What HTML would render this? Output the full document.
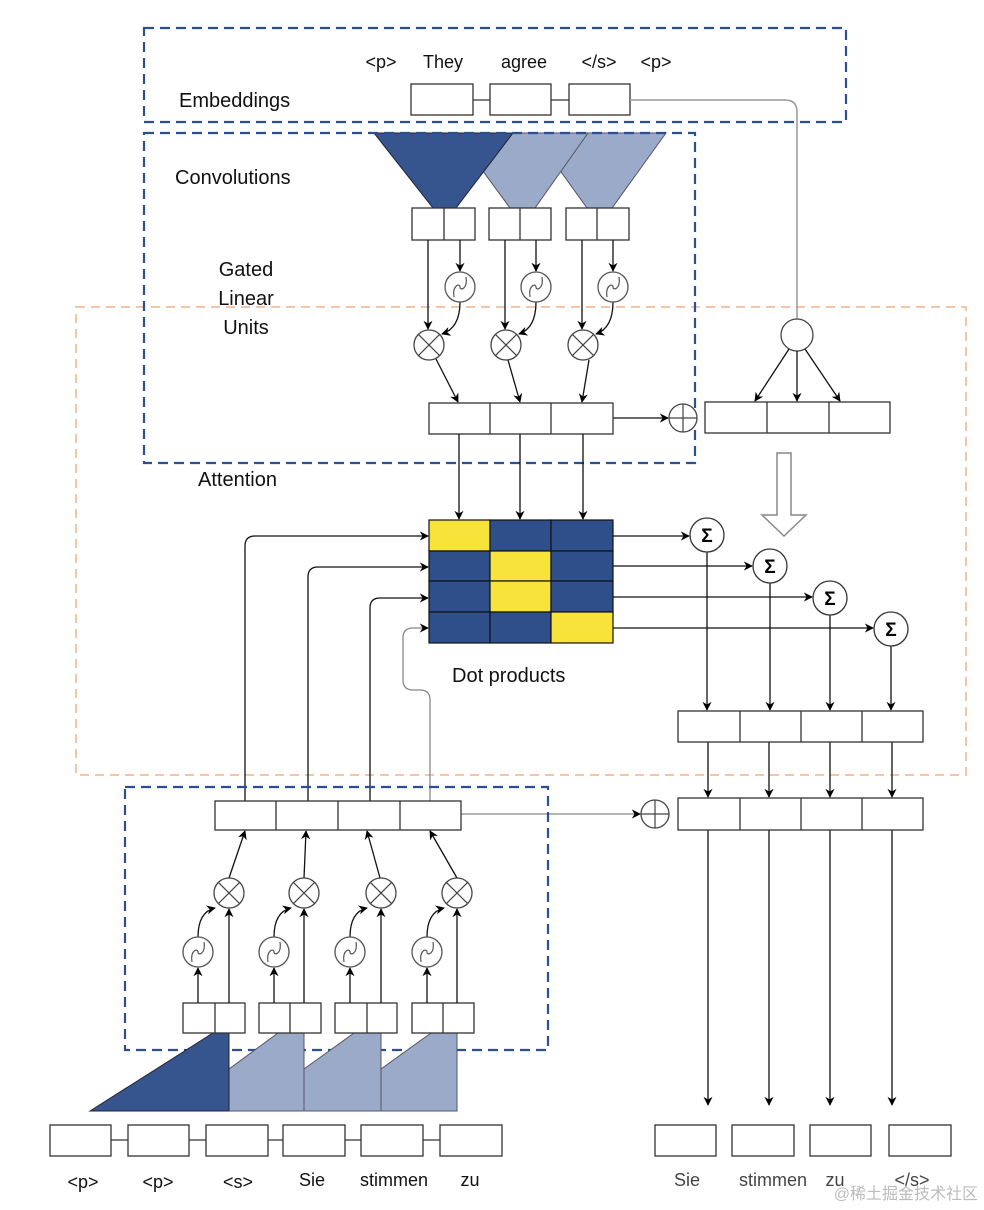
<!DOCTYPE html>
<html><head><meta charset="utf-8"><style>html,body{margin:0;padding:0;background:#fff}svg{display:block}</style></head>
<body>
<svg width="984" height="1210" viewBox="0 0 984 1210" xmlns="http://www.w3.org/2000/svg" font-family="Liberation Sans, sans-serif">
<defs>
<marker id="a" viewBox="0 0 10 10" refX="9" refY="5" markerWidth="7" markerHeight="7" orient="auto"><path d="M0,0 L10,5 L0,10 L3,5 z" fill="#000"/></marker>
<g id="sig"><circle r="15" fill="#fff" stroke="#555" stroke-width="1.3"/><path d="M-6,10 C-8,-2 0,-4 0,0 C0,4 8,2 6,-10" fill="none" stroke="#555" stroke-width="1.2"/></g>
<g id="mul"><circle r="15" fill="#fff" stroke="#444" stroke-width="1.3"/><path d="M-10.6,-10.6 L10.6,10.6 M10.6,-10.6 L-10.6,10.6" stroke="#444" stroke-width="1.2"/></g>
<g id="plus"><circle r="14" fill="#fff" stroke="#444" stroke-width="1.3"/><path d="M-14,0 H14 M0,-14 V14" stroke="#444" stroke-width="1.2"/></g>
<g id="sum"><circle r="17" fill="#fff" stroke="#333" stroke-width="1.3"/><text y="7" text-anchor="middle" font-size="19" font-weight="bold">Σ</text></g>
</defs>

<rect x="76" y="307" width="890" height="468" fill="none" stroke="#f4c6a3" stroke-width="2" stroke-dasharray="9,6"/>
<rect x="144" y="28" width="702" height="94" fill="none" stroke="#2c4f8f" stroke-width="2.2" stroke-dasharray="10,6"/>

<polygon points="533,133 666,133 612,208 587,208" fill="#9aaac8" stroke="#556" stroke-width="1"/>
<polygon points="455,133 588,133 535,208 510,208" fill="#9aaac8" stroke="#556" stroke-width="1"/>
<polygon points="374,133 513,133 456,208 433,208" fill="#36558f" stroke="#223" stroke-width="1"/>
<rect x="144" y="133" width="551" height="330" fill="none" stroke="#2c4f8f" stroke-width="2.2" stroke-dasharray="10,6"/>

<g font-size="18" text-anchor="middle" fill="#111">
<text x="381" y="68">&lt;p&gt;</text><text x="443" y="68">They</text><text x="524" y="68">agree</text><text x="599" y="68">&lt;/s&gt;</text><text x="656" y="68">&lt;p&gt;</text>
</g>
<g fill="#fff" stroke="#333" stroke-width="1.3">
<rect x="411" y="84" width="62" height="31"/><rect x="490" y="84" width="61" height="31"/><rect x="569" y="84" width="61" height="31"/>
</g>
<path d="M473,100 H490 M551,100 H569" stroke="#333" stroke-width="1.2"/>
<path d="M630,100 H785 Q797,100 797,112 V319" fill="none" stroke="#999" stroke-width="1.5"/>

<g font-size="20" fill="#111">
<text x="179" y="107">Embeddings</text>
<text x="175" y="184">Convolutions</text>
<text x="246" y="276" text-anchor="middle">Gated</text>
<text x="246" y="305" text-anchor="middle">Linear</text>
<text x="246" y="334" text-anchor="middle">Units</text>
<text x="198" y="486">Attention</text>
<text x="452" y="682">Dot products</text>
</g>

<g fill="#fff" stroke="#333" stroke-width="1.3">
<rect x="412" y="208" width="63" height="32"/><rect x="489" y="208" width="62" height="32"/><rect x="566" y="208" width="63" height="32"/>
</g>
<path d="M444,208V240 M520,208V240 M597,208V240" stroke="#333" stroke-width="1.3"/>
<g stroke="#111" stroke-width="1.3" fill="none" marker-end="url(#a)">
<path d="M428,240 V329"/><path d="M505,240 V329"/><path d="M582,240 V329"/>
<path d="M460,240 V271"/><path d="M536,240 V271"/><path d="M613,240 V271"/>
<path d="M460,302 Q460,328 442,334"/><path d="M536,302 Q536,328 519,334"/><path d="M613,302 Q613,328 596,334"/>
<path d="M436,359 L458,402"/><path d="M508,360 L520,402"/><path d="M589,360 L582,402"/>
<path d="M613,418 H668"/>
</g>
<use href="#sig" x="460" y="287"/><use href="#sig" x="536" y="287"/><use href="#sig" x="613" y="287"/>
<use href="#mul" x="429" y="345"/><use href="#mul" x="506" y="345"/><use href="#mul" x="583" y="345"/>

<rect x="429" y="403" width="184" height="31" fill="#fff" stroke="#333" stroke-width="1.3"/>
<path d="M490,403V434 M551,403V434" stroke="#333" stroke-width="1.3"/>
<use href="#plus" x="683" y="418"/>
<rect x="705" y="402" width="185" height="31" fill="#fff" stroke="#333" stroke-width="1.3"/>
<path d="M767,402V433 M829,402V433" stroke="#333" stroke-width="1.3"/>
<circle cx="797" cy="335" r="16" fill="#fff" stroke="#444" stroke-width="1.3"/>
<g stroke="#111" stroke-width="1.3" marker-end="url(#a)">
<path d="M789,349 L755,401"/><path d="M797,351 V401"/><path d="M805,349 L840,401"/>
</g>
<polygon points="777,453 791,453 791,515 806,515 784,536 762,515 777,515" fill="#fff" stroke="#888" stroke-width="1.5"/>

<g stroke="#111" stroke-width="1.3" marker-end="url(#a)">
<path d="M459,434 V519"/><path d="M520,434 V519"/><path d="M583,434 V519"/>
</g>

<g stroke="#111" stroke-width="1.2">
<rect x="429" y="520" width="61" height="31" fill="#f7e33a"/><rect x="490" y="520" width="61" height="31" fill="#2f4f8a"/><rect x="551" y="520" width="62" height="31" fill="#2f4f8a"/>
<rect x="429" y="551" width="61" height="30" fill="#2f4f8a"/><rect x="490" y="551" width="61" height="30" fill="#f7e33a"/><rect x="551" y="551" width="62" height="30" fill="#2f4f8a"/>
<rect x="429" y="581" width="61" height="31" fill="#2f4f8a"/><rect x="490" y="581" width="61" height="31" fill="#f7e33a"/><rect x="551" y="581" width="62" height="31" fill="#2f4f8a"/>
<rect x="429" y="612" width="61" height="31" fill="#2f4f8a"/><rect x="490" y="612" width="61" height="31" fill="#2f4f8a"/><rect x="551" y="612" width="62" height="31" fill="#f7e33a"/>
</g>

<g stroke="#111" stroke-width="1.3" fill="none" marker-end="url(#a)">
<path d="M613,536 H689"/><path d="M613,566 H752"/><path d="M613,597 H812"/><path d="M613,628 H873"/>
<path d="M707,552 V710"/><path d="M770,583 V710"/><path d="M830,615 V710"/><path d="M891,646 V710"/>
<path d="M708,742 V797"/><path d="M769,742 V797"/><path d="M830,742 V797"/><path d="M892,742 V797"/>
<path d="M708,830 V1105"/><path d="M769,830 V1105"/><path d="M830,830 V1105"/><path d="M892,830 V1105"/>
</g>
<use href="#sum" x="707" y="535"/><use href="#sum" x="770" y="566"/><use href="#sum" x="830" y="598"/><use href="#sum" x="891" y="629"/>

<g fill="#fff" stroke="#333" stroke-width="1.3">
<rect x="678" y="711" width="245" height="31"/><rect x="678" y="798" width="245" height="32"/>
</g>
<path d="M740,711V742 M801,711V742 M862,711V742 M740,798V830 M801,798V830 M862,798V830" stroke="#333" stroke-width="1.3"/>
<use href="#plus" x="655" y="814"/>

<g stroke="#111" stroke-width="1.3" fill="none" marker-end="url(#a)">
<path d="M245,801 V546 Q245,536 255,536 H428"/>
<path d="M308,801 V577 Q308,567 318,567 H428"/>
<path d="M370,801 V608 Q370,598 380,598 H428"/>
</g>
<path d="M430,801 V700 Q430,690 420,690 H413 Q403,690 403,680 V638 Q403,628 413,628 H428" stroke="#888" stroke-width="1.3" fill="none" marker-end="url(#a)"/>
<path d="M461,814 H640" stroke="#888" stroke-width="1.3" marker-end="url(#a)"/>

<rect x="125" y="787" width="423" height="263" fill="none" stroke="#2c4f8f" stroke-width="2.2" stroke-dasharray="10,6"/>
<rect x="215" y="801" width="246" height="29" fill="#fff" stroke="#333" stroke-width="1.3"/>
<path d="M276,801V830 M338,801V830 M400,801V830" stroke="#333" stroke-width="1.3"/>

<polygon points="229,1111 229,1069 278,1033 304,1033 304,1111" fill="#9aaac8" stroke="#556" stroke-width="1"/>
<polygon points="304,1111 304,1069 354,1033 381,1033 381,1111" fill="#9aaac8" stroke="#556" stroke-width="1"/>
<polygon points="381,1111 381,1069 431,1033 457,1033 457,1111" fill="#9aaac8" stroke="#556" stroke-width="1"/>
<polygon points="90,1111 213,1033 229,1033 229,1111" fill="#36558f" stroke="#223" stroke-width="1"/>

<g fill="#fff" stroke="#333" stroke-width="1.3">
<rect x="183" y="1003" width="62" height="30"/><rect x="259" y="1003" width="62" height="30"/><rect x="335" y="1003" width="62" height="30"/><rect x="412" y="1003" width="62" height="30"/>
</g>
<path d="M215,1003V1033 M290,1003V1033 M367,1003V1033 M443,1003V1033" stroke="#333" stroke-width="1.3"/>

<g stroke="#111" stroke-width="1.3" fill="none" marker-end="url(#a)">
<path d="M198,1003 V968"/><path d="M274,1003 V968"/><path d="M350,1003 V968"/><path d="M427,1003 V968"/>
<path d="M229,1003 V909"/><path d="M304,1003 V909"/><path d="M381,1003 V909"/><path d="M457,1003 V909"/>
<path d="M198,937 Q198,912 215,908"/><path d="M274,937 Q274,912 291,908"/><path d="M350,937 Q350,912 367,908"/><path d="M427,937 Q427,912 444,908"/>
<path d="M229,878 L245,831"/><path d="M304,878 L306,831"/><path d="M380,878 L367,831"/><path d="M457,878 L430,831"/>
</g>
<use href="#mul" x="229" y="893"/><use href="#mul" x="304" y="893"/><use href="#mul" x="381" y="893"/><use href="#mul" x="457" y="893"/>
<use href="#sig" x="198" y="952"/><use href="#sig" x="274" y="952"/><use href="#sig" x="350" y="952"/><use href="#sig" x="427" y="952"/>

<g fill="#fff" stroke="#333" stroke-width="1.3">
<rect x="50" y="1125" width="61" height="31"/><rect x="128" y="1125" width="61" height="31"/><rect x="206" y="1125" width="62" height="31"/><rect x="283" y="1125" width="62" height="31"/><rect x="361" y="1125" width="62" height="31"/><rect x="440" y="1125" width="62" height="31"/>
<rect x="655" y="1125" width="61" height="31"/><rect x="732" y="1125" width="62" height="31"/><rect x="810" y="1125" width="61" height="31"/><rect x="889" y="1125" width="62" height="31"/>
</g>
<path d="M111,1140H128 M189,1140H206 M268,1140H283 M345,1140H361 M423,1140H440" stroke="#333" stroke-width="1.2"/>
<g font-size="18" text-anchor="middle" fill="#111">
<text x="83" y="1188">&lt;p&gt;</text><text x="158" y="1188">&lt;p&gt;</text><text x="238" y="1188">&lt;s&gt;</text><text x="312" y="1186">Sie</text><text x="394" y="1186">stimmen</text><text x="470" y="1186">zu</text>
</g>
<g font-size="18" text-anchor="middle" fill="#444">
<text x="687" y="1186">Sie</text><text x="773" y="1186">stimmen</text><text x="835" y="1186">zu</text><text x="912" y="1186">&lt;/s&gt;</text>
</g>
<text x="978" y="1199" text-anchor="end" font-size="16" fill="#bbb" font-family="Liberation Sans, Noto Sans CJK SC, sans-serif">@稀土掘金技术社区</text>
</svg>
</body></html>
